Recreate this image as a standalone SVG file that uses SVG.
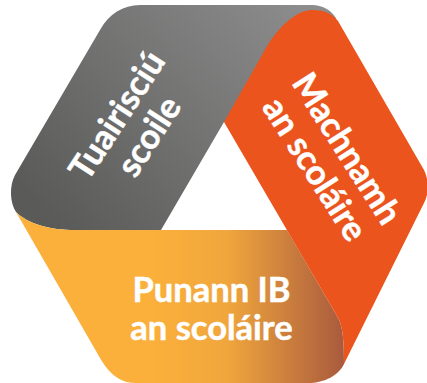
<svg xmlns="http://www.w3.org/2000/svg" width="427" height="383" viewBox="0 0 427 383">
<style>
text{font-family:Lato,"Liberation Sans",sans-serif;font-weight:700;fill:#fff;text-anchor:middle;stroke:#fff;stroke-width:.5}
.g{font-size:34.5px}
</style>
<defs>
<linearGradient id="gr" gradientUnits="userSpaceOnUse" x1="60" y1="230" x2="300" y2="5"><stop offset="0" stop-color="#5a5a59"/><stop offset="1" stop-color="#8c8c8c"/></linearGradient>
<linearGradient id="or" gradientUnits="userSpaceOnUse" x1="150" y1="0" x2="344" y2="0"><stop offset="0" stop-color="#fbb03b"/><stop offset="0.4" stop-color="#f0a63c"/><stop offset="1" stop-color="#a95a3e"/></linearGradient>
</defs>
<g id="tuairisciu">
<path fill="url(#gr)" d="M140 5H312C322 5 331 10 336 18L300 100L224 122L161 230H75C50 230 28 224 16 212C10 203 9 186 15 175L100 30C109 14 123 5 140 5Z"/>
<text class="g" transform="translate(127 122) rotate(-57)"><tspan x="0" y="0">Tuairisciú</tspan><tspan x="0" y="38">scoile</tspan></text>
</g>
<g id="punann">
<path fill="url(#or)" d="M16 212C28 224 50 230 75 230H287L337 316C343 326 344 340 344 364C339 375 325 383 308 383H135C119 383 108 372 100 358Z"/>
<text class="g" x="211.5" y="302">Punann IB</text>
<text class="g" x="211.5" y="340">an scoláire</text>
</g>
<g id="machnamh">
<path fill="#eb541d" d="M224 122L262 55C275 30 295 10 312 10C323 10 332 13 338 21L424 170C429 180 429 194 424 203L344 364C344 340 343 326 337 316Z"/>
<text class="g" transform="translate(337 155) rotate(57.5)"><tspan x="0" y="0">Machnamh</tspan><tspan x="0" y="38">an scoláire</tspan></text>
</g>
<g id="connectors"/>
</svg>
